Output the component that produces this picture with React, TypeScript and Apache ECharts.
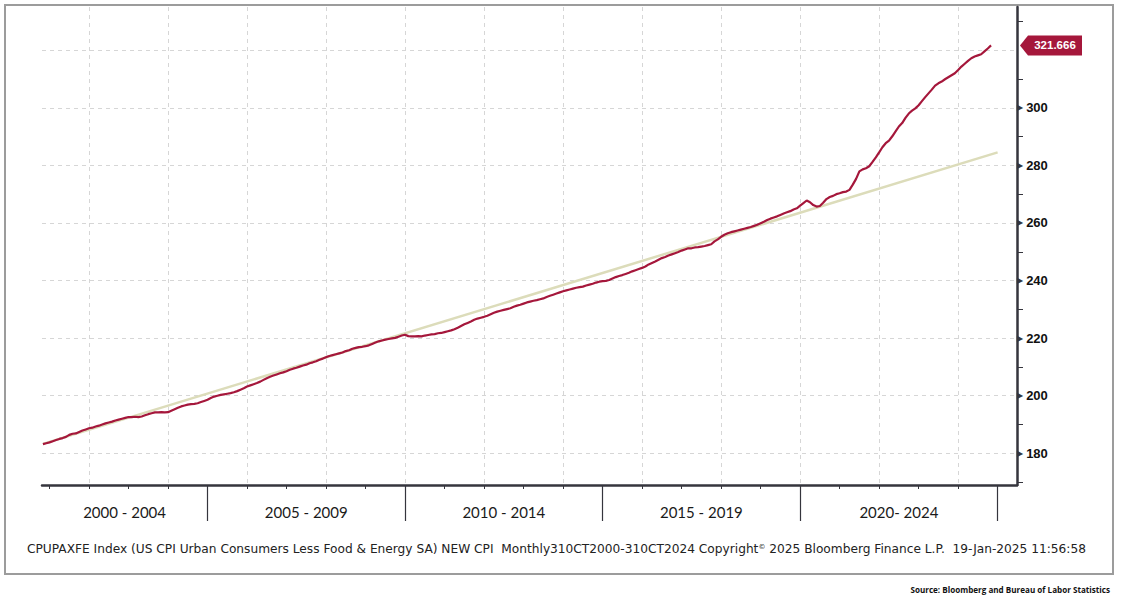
import React, { useEffect, useRef } from "react";
import * as echarts from "echarts";

// ---------- DATA ----------
const START_YEAR = 2000;
const START_MONTH = 10; // first observation: Oct 2000 (month end)

const cpi2000 = [183.2, 183.5, 183.8];
const cpi2001 = [184.2, 184.6, 185.0, 185.3, 185.7, 186.4, 186.8, 186.9, 187.4, 187.9, 188.3, 188.7];
const cpi2002 = [188.9, 189.3, 189.6, 190.0, 190.4, 190.7, 191.0, 191.4, 191.7, 192.0, 192.3, 192.6];
const cpi2003 = [192.6, 192.7, 192.6, 192.8, 193.2, 193.6, 193.9, 194.2, 194.2, 194.3, 194.2, 194.3];
const cpi2004 = [194.8, 195.3, 195.8, 196.3, 196.6, 196.9, 197.1, 197.2, 197.4, 197.8, 198.2, 198.6];
const cpi2005 = [199.2, 199.7, 200.0, 200.3, 200.5, 200.7, 200.9, 201.2, 201.6, 202.1, 202.6, 203.2];
const cpi2006 = [203.6, 204.0, 204.4, 204.9, 205.5, 206.1, 206.6, 207.0, 207.4, 207.8, 208.1, 208.5];
const cpi2007 = [209.0, 209.4, 209.7, 210.1, 210.5, 210.8, 211.3, 211.6, 212.0, 212.5, 212.9, 213.4];
const cpi2008 = [213.8, 214.1, 214.4, 214.7, 215.0, 215.5, 215.8, 216.3, 216.6, 216.9, 217.0, 217.2];
const cpi2009 = [217.5, 218.0, 218.5, 218.9, 219.2, 219.5, 219.7, 219.9, 220.1, 220.5, 220.9, 221.2];
const cpi2010 = [220.7, 220.6, 220.6, 220.7, 220.6, 220.9, 221.1, 221.3, 221.4, 221.7, 221.8, 222.1];
const cpi2011 = [222.4, 222.7, 223.1, 223.6, 224.2, 224.8, 225.3, 225.8, 226.4, 226.8, 227.1, 227.4];
const cpi2012 = [227.8, 228.3, 228.8, 229.2, 229.5, 229.8, 230.1, 230.4, 230.9, 231.3, 231.6, 232.0];
const cpi2013 = [232.4, 232.7, 233.0, 233.2, 233.5, 233.8, 234.3, 234.7, 235.1, 235.5, 235.9, 236.3];
const cpi2014 = [236.6, 236.9, 237.2, 237.5, 237.7, 237.9, 238.3, 238.6, 238.9, 239.3, 239.6, 239.8];
const cpi2015 = [239.9, 240.2, 240.7, 241.2, 241.6, 241.9, 242.3, 242.7, 243.2, 243.6, 244.0, 244.4];
const cpi2016 = [244.9, 245.6, 246.1, 246.6, 247.2, 247.8, 248.2, 248.7, 249.1, 249.5, 249.9, 250.4];
const cpi2017 = [250.8, 251.2, 251.2, 251.5, 251.6, 251.8, 252.0, 252.3, 252.6, 253.6, 254.3, 255.2];
const cpi2018 = [255.9, 256.4, 256.8, 257.1, 257.4, 257.7, 258.0, 258.3, 258.6, 259.0, 259.4, 259.9];
const cpi2019 = [260.4, 261.0, 261.5, 261.9, 262.3, 262.8, 263.3, 263.7, 264.1, 264.7, 265.1, 266.0];
const cpi2020 = [266.9, 267.8, 267.2, 266.2, 265.7, 265.9, 267.0, 268.3, 269.0, 269.4, 270.0, 270.3];
const cpi2021 = [270.7, 270.9, 271.5, 273.3, 275.3, 277.9, 278.6, 279.0, 279.7, 281.2, 282.8, 284.5];
const cpi2022 = [286.3, 287.7, 288.6, 290.1, 291.8, 293.5, 294.7, 296.5, 298.0, 299.0, 299.8, 300.9];
const cpi2023 = [302.3, 303.7, 305.0, 306.3, 307.7, 308.5, 309.1, 309.9, 310.6, 311.3, 312.0, 313.1];
const cpi2024 = [314.3, 315.3, 316.3, 317.2, 317.8, 318.2, 318.6, 319.6, 320.6, 321.666];

const coreCpi = [
  ...cpi2000, ...cpi2001, ...cpi2002, ...cpi2003, ...cpi2004, ...cpi2005,
  ...cpi2006, ...cpi2007, ...cpi2008, ...cpi2009, ...cpi2010, ...cpi2011,
  ...cpi2012, ...cpi2013, ...cpi2014, ...cpi2015, ...cpi2016, ...cpi2017,
  ...cpi2018, ...cpi2019, ...cpi2020, ...cpi2021, ...cpi2022, ...cpi2023,
  ...cpi2024,
];

// trend line end points [year, value]
const trendStart = [2000.833, 183.3];
const trendEnd = [2025.0, 284.5];

const periodLabels = ["2000 - 2004", "2005 - 2009", "2010 - 2014", "2015 - 2019", "2020- 2024"];
const periodCenters = [2002.9, 2007.5, 2012.5, 2017.5, 2022.5];
const periodBreaks = [2005, 2010, 2015, 2020, 2025];
const yearTicks = [2001, 2002, 2003, 2004, 2005, 2006, 2007, 2008, 2009, 2010, 2011, 2012,
  2013, 2014, 2015, 2016, 2017, 2018, 2019, 2020, 2021, 2022, 2023, 2024];
const gridYears = [2002, 2004, 2006, 2008, 2010, 2012, 2014, 2016, 2018, 2020, 2022, 2024];

const yGridValues = [180, 200, 220, 240, 260, 280, 300, 320];
const yLabelValues = [180, 200, 220, 240, 260, 280, 300];
const yMinorTicks = [170, 190, 210, 230, 250, 270, 290, 310, 330];

const footerText =
  "CPUPAXFE Index (US CPI Urban Consumers Less Food & Energy SA) NEW CPI  Monthly310CT2000-310CT2024 Copyright{sup|©} 2025 Bloomberg Finance L.P.  19-Jan-2025 11:56:58";
const sourceText = "Source: Bloomberg and Bureau of Labor Statistics";

// ---------- LAYOUT / STYLE ----------
const X_MIN = 2000.81;
const X_MAX = 2025.49;
const Y_MIN = 169;
const Y_MAX = 335;
const AXIS_COLOR = "#35353d";
const RED = "#a5173b";
const TREND = "#dcdcba";
const GRID_LINE = { color: "#d6d6d6", type: [4, 4] as any, width: 1 };

export default function App() {
  const ref = useRef<HTMLDivElement>(null);

  useEffect(() => {
    if (!ref.current) return;
    const chart = echarts.init(ref.current, undefined, { renderer: "svg" });

    const cpiData = coreCpi.map((v, i) => [START_YEAR + (START_MONTH + i) / 12, v]);
    const last = coreCpi[coreCpi.length - 1];

    const baseX = {
      type: "value",
      min: X_MIN,
      max: X_MAX,
      position: "bottom",
      gridIndex: 0,
    };

    const option: any = {
      animation: false,
      backgroundColor: "#ffffff",
      grid: {
        left: 42,
        right: 105,
        top: 7,
        bottom: 112,
        containLabel: false,
        outerBoundsMode: "none",
      },
      xAxis: [
        {
          ...baseX,
          axisLine: { show: true, onZero: false, lineStyle: { color: AXIS_COLOR, width: 2.5 } },
          axisTick: { show: true, customValues: yearTicks, length: 4, lineStyle: { color: AXIS_COLOR, width: 1 } },
          axisLabel: { show: false },
          splitLine: { show: false },
        },
        {
          ...baseX,
          axisLine: { show: false, onZero: false },
          axisTick: { show: false, customValues: gridYears },
          axisLabel: { show: false },
          splitLine: { show: true, lineStyle: GRID_LINE },
        },
        {
          ...baseX,
          axisLine: { show: false, onZero: false },
          axisTick: { show: true, customValues: periodBreaks, length: 36, lineStyle: { color: AXIS_COLOR, width: 1.2 } },
          axisLabel: { show: false },
          splitLine: { show: false },
        },
        {
          ...baseX,
          axisLine: { show: false, onZero: false },
          axisTick: { show: false },
          splitLine: { show: false },
          axisLabel: {
            show: true,
            customValues: periodCenters,
            margin: 19,
            fontSize: 15,
            fontFamily: "Lato",
            color: "#1a1a1a",
            formatter: (v: number) => {
              let best = 0;
              periodCenters.forEach((c, i) => {
                if (Math.abs(c - v) < Math.abs(periodCenters[best] - v)) best = i;
              });
              return periodLabels[best];
            },
          },
        },
      ],
      yAxis: [
        {
          type: "value",
          position: "right",
          min: Y_MIN,
          max: Y_MAX,
          axisLine: { show: true, onZero: false, lineStyle: { color: AXIS_COLOR, width: 2.5 } },
          axisTick: { show: false, customValues: yGridValues },
          splitLine: { show: true, lineStyle: GRID_LINE },
          axisLabel: {
            show: true,
            customValues: yLabelValues,
            margin: 0,
            formatter: (v: number) => `{a|▶}{v|${v}}`,
            rich: {
              a: { fontSize: 8, color: AXIS_COLOR, fontFamily: "DejaVu Sans", padding: [0, 3, 0, 0] },
              v: { fontSize: 13, fontWeight: "bold", color: "#111111", fontFamily: "Liberation Sans" },
            },
          },
        },
        {
          type: "value",
          position: "right",
          min: Y_MIN,
          max: Y_MAX,
          axisLine: { show: false, onZero: false },
          axisTick: { show: true, customValues: yMinorTicks, length: 6, lineStyle: { color: AXIS_COLOR, width: 1 } },
          splitLine: { show: false },
          axisLabel: { show: false },
        },
      ],
      series: [
        {
          type: "line",
          name: "Trend",
          xAxisIndex: 0,
          yAxisIndex: 0,
          data: [trendStart, trendEnd],
          symbol: "none",
          silent: true,
          lineStyle: { color: TREND, width: 2.5 },
          z: 2,
        },
        {
          type: "line",
          name: "CPUPAXFE Index",
          xAxisIndex: 0,
          yAxisIndex: 0,
          data: cpiData,
          symbol: "none",
          silent: true,
          lineStyle: { color: RED, width: 2.2 },
          z: 3,
          markPoint: {
            silent: true,
            symbol: "path://M0,10L8,0L62,0L62,20L8,20Z",
            symbolSize: [62, 20],
            symbolOffset: [34, 0],
            itemStyle: { color: RED },
            label: {
              show: true,
              position: "inside",
              offset: [4, 0],
              color: "#ffffff",
              fontSize: 11.5,
              fontWeight: "bold",
              fontFamily: "Liberation Sans",
              formatter: () => last.toFixed(3),
            },
            data: [{ coord: [X_MAX, last], value: last }],
          },
        },
      ],
      graphic: [
        {
          type: "rect",
          shape: { x: 5, y: 5, width: 1108, height: 569 },
          style: { fill: "none", stroke: "#9c9c9c", lineWidth: 2 },
          silent: true,
          z: -1,
        },
        {
          type: "text",
          x: 27,
          y: 549,
          style: {
            text: footerText,
            fontSize: 12.2,
            fontFamily: "DejaVu Sans",
            fill: "#222222",
            verticalAlign: "middle",
            rich: {
              sup: { fontSize: 7, verticalAlign: "top", fill: "#222222", fontFamily: "DejaVu Sans" },
            },
          },
          silent: true,
        },
        {
          type: "text",
          x: 1110,
          y: 589,
          style: {
            text: sourceText,
            fontSize: 8.1,
            fontWeight: "bold",
            fontFamily: "Open Sans",
            fill: "#111111",
            align: "right",
            verticalAlign: "middle",
          },
          silent: true,
        },
      ],
    };

    chart.setOption(option);
    return () => chart.dispose();
  }, []);

  return (
    <div
      ref={ref}
      style={{ position: "fixed", left: 0, top: 0, width: 1122, height: 597, background: "#fff" }}
    />
  );
}
